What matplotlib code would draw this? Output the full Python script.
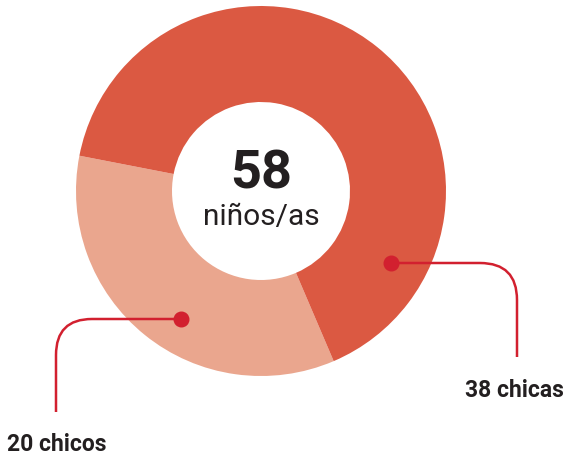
import matplotlib
matplotlib.use("Agg")
import matplotlib.pyplot as plt
from matplotlib.path import Path
from matplotlib.patches import PathPatch

# data
labels = ["20 chicos", "38 chicas"]
values = [20, 38]
total_label = "58"
total_sub = "niños/as"

colors = ["#EAA68E", "#DB5942"]
line_color = "#D2202F"
text_color = "#231F20"

W, H = 564, 460
fig = plt.figure(figsize=(W / 100, H / 100), dpi=100)
ax = fig.add_axes([0, 0, 1, 1])

cx, cy = 261, H - 192
r_out, r_in = 185, 89
ax.pie(values, colors=colors, startangle=169, counterclock=True,
       radius=r_out, center=(cx, cy),
       wedgeprops=dict(width=r_out - r_in, linewidth=0))

ax.set_xlim(0, W)
ax.set_ylim(0, H)
ax.set_aspect("equal")
ax.axis("off")

# centre text
ax.text(cx, H - 174, total_label, ha="center", va="center", fontsize=39,
        fontweight="bold", family="Roboto", color=text_color)
ax.text(cx, H - 217, total_sub, ha="center", va="center", fontsize=21.5,
        family="Roboto", color=text_color)


def connector(x0, y0, xc, yc, y1, rad):
    # horizontal run, rounded corner, vertical drop
    sx = 1 if xc > x0 else -1
    verts = [(x0, y0), (xc - sx * rad, y0), (xc, y0), (xc, y0 - rad), (xc, y1)]
    codes = [Path.MOVETO, Path.LINETO, Path.CURVE3, Path.CURVE3, Path.LINETO]
    ax.add_patch(PathPatch(Path(verts, codes), fill=False, edgecolor=line_color,
                           lw=1.8, capstyle="butt"))
    ax.plot([x0], [y0], "o", color=line_color, markersize=10.5, zorder=5)


connector(391, H - 264, 517, H - 264, H - 358, 37)
connector(181, H - 320, 56, H - 320, H - 413, 36)

ax.text(514, H - 391, labels[1], ha="center", va="center", fontsize=16.5,
        fontweight="bold", family="Roboto", color=text_color)
ax.text(57, H - 445, labels[0], ha="center", va="center", fontsize=16.5,
        fontweight="bold", family="Roboto", color=text_color)

fig.savefig("out.png", dpi=100)
